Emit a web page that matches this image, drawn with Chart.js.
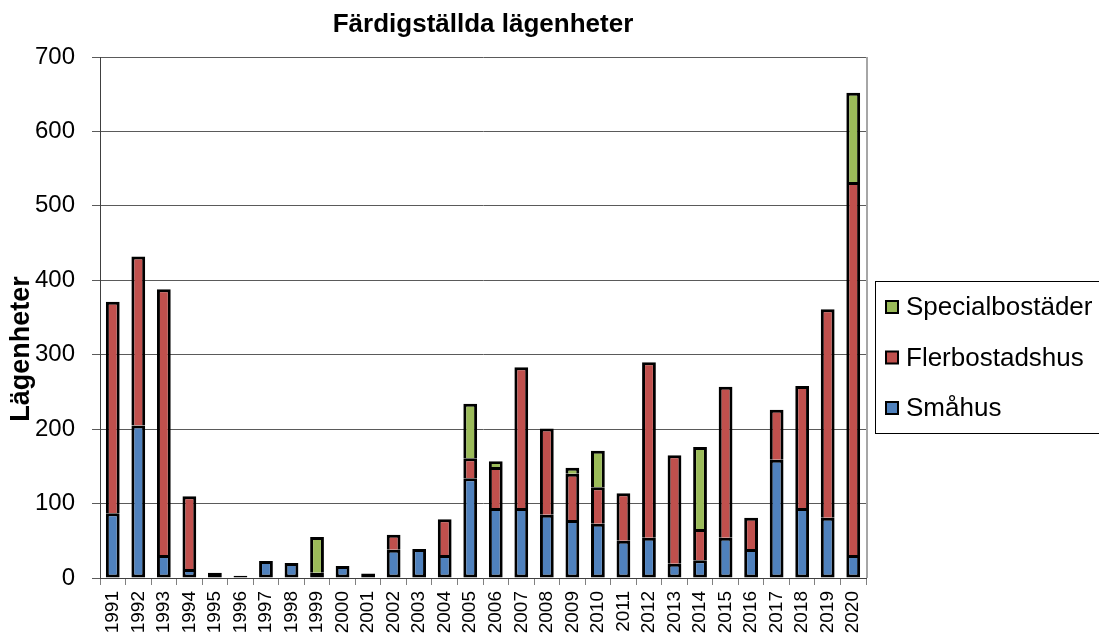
<!DOCTYPE html>
<html>
<head>
<meta charset="utf-8">
<script src="https://cdn.jsdelivr.net/npm/chart.js@4"></script>
<style>
  html, body { margin: 0; padding: 0; background: #fff; }
  #wrap { width: 1099px; height: 636px; }
</style>
</head>
<body>
<div id="wrap"><canvas id="myChart"></canvas></div>
<script>
// Data
const years = ['1991','1992','1993','1994','1995','1996','1997','1998','1999','2000',
  '2001','2002','2003','2004','2005','2006','2007','2008','2009','2010',
  '2011','2012','2013','2014','2015','2016','2017','2018','2019','2020'];
const smahus = [87, 205, 31, 12, 7, 3, 23, 20, 7, 16, 6, 38, 39, 31, 134, 94, 94, 85, 78, 73,
  50, 54, 19, 24, 54, 39, 159, 94, 81, 31];
const flerbostadshus = [284, 227, 357, 98, 0, 0, 0, 0, 0, 0, 0, 20, 0, 48, 27, 55, 189, 116, 62, 49,
  64, 236, 146, 42, 203, 42, 67, 164, 280, 501];
const specialbostader = [0, 0, 0, 0, 0, 0, 0, 0, 48, 0, 0, 0, 0, 0, 73, 8, 0, 0, 8, 49,
  0, 0, 0, 110, 0, 0, 0, 0, 0, 120];
const yTicks = [0, 100, 200, 300, 400, 500, 600, 700];

const canvas = document.getElementById('myChart');
const ctx = canvas.getContext('2d');

const FONT = "'Liberation Sans', Arial, sans-serif";

// titel, y-axeltitel, ram till höger och legend ritas för hand
const decor = {
  id: 'decor',
  afterDraw(chart) {
    const c = chart.ctx;
    const a = chart.chartArea;
    c.save();
    // ram höger
    c.strokeStyle = '#a6a6a6';
    c.lineWidth = 2;
    c.beginPath();
    c.moveTo(a.right + 1, a.top);
    c.lineTo(a.right + 1, a.bottom);
    c.stroke();

    // titel
    c.fillStyle = '#000';
    c.font = 'bold 26px ' + FONT;
    c.textAlign = 'center';
    c.textBaseline = 'middle';
    c.fillText('Färdigställda lägenheter', (a.left + a.right) / 2, 25);

    // y-axeltitel
    c.save();
    c.translate(22, 349);
    c.rotate(-Math.PI / 2);
    c.font = 'bold 27px ' + FONT;
    c.fillText('Lägenheter', 0, 0);
    c.restore();

    // legend
    c.strokeStyle = '#000';
    c.lineWidth = 1;
    c.strokeRect(875.5, 281.5, 230, 152);
    const items = chart.data.datasets.slice().reverse();
    c.font = '26px ' + FONT;
    c.textAlign = 'left';
    items.forEach(function(ds, i) {
      const cy = 307 + i * 50.5;
      c.fillStyle = ds.backgroundColor;
      c.fillRect(886, cy - 6, 12, 12);
      c.lineWidth = 2;
      c.strokeRect(886, cy - 6, 12, 12);
      c.fillStyle = '#000';
      c.fillText(ds.label, 906, cy + 1);
    });
    c.restore();
  }
};

// kant: segmenten ovanpå har ingen egen underkant, så skarvarna blir inte dubbla
const edge = { top: 3, left: 3, right: 3, bottom: 0 };

const data = {
  labels: years,
  datasets: [
    { label: 'Småhus', data: smahus, backgroundColor: '#4f81bd',
      borderWidth: { top: 3, left: 3, right: 3, bottom: 3 } },
    { label: 'Flerbostadshus', data: flerbostadshus, backgroundColor: '#c0504d', borderWidth: edge },
    { label: 'Specialbostäder', data: specialbostader, backgroundColor: '#9bbb59', borderWidth: edge }
  ].map(function(ds) {
    return Object.assign(ds, {
      borderColor: '#000',
      borderSkipped: false,
      inflateAmount: 0,
      barPercentage: 0.54,
      categoryPercentage: 1
    });
  })
};

const options = {
  responsive: false,
  animation: false,
  layout: { padding: { top: 57, right: 233, left: 0, bottom: 0 } },
  plugins: {
    legend: { display: false },
    title: { display: false },
    tooltip: { enabled: false }
  },
  scales: {
    x: {
      stacked: true,
      grid: {
        display: true,
        drawOnChartArea: false,
        drawTicks: true,
        tickLength: 7,
        color: '#808080',
        offset: true
      },
      border: { color: '#404040', width: 1 },
      ticks: {
        autoSkip: false,
        minRotation: 90,
        maxRotation: 90,
        padding: 6,
        color: '#000',
        font: { family: FONT, size: 19 }
      },
      afterFit(scale) { scale.height = 58; }
    },
    y: {
      stacked: true,
      min: 0,
      max: 700,
      afterBuildTicks(scale) {
        scale.ticks = yTicks.map(function(v) { return { value: v }; });
      },
      grid: {
        color: '#5a5a5a',
        lineWidth: 1,
        drawTicks: true,
        tickLength: 8
      },
      border: { color: '#404040', width: 1 },
      ticks: {
        padding: 17,
        color: '#000',
        font: { family: FONT, size: 24 }
      },
      afterFit(scale) { scale.width = 100; }
    }
  }
};

canvas.width = 1099;
canvas.height = 636;
const myChart = new Chart(ctx, {
  type: 'bar',
  data: data,
  options: options,
  plugins: [decor]
});
</script>
</body>
</html>
